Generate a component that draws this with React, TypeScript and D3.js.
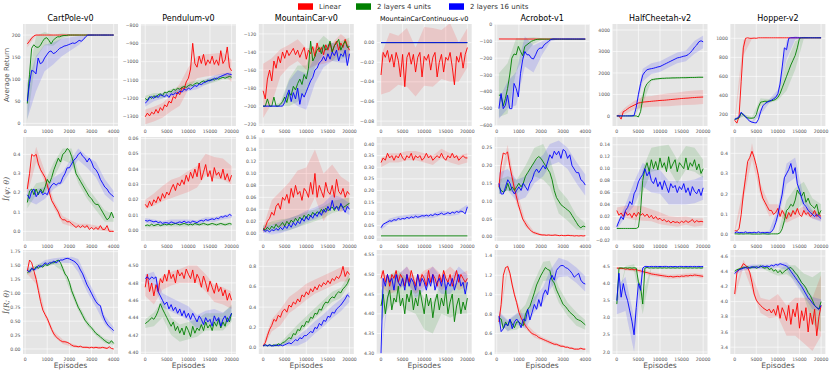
import React from "react";
import * as d3 from "d3";

// legend / series
const seriesNames = ["Linear", "2 layers 4 units", "2 layers 16 units"];
const seriesColors = ["#ff0000", "#008000", "#0000ff"];
const envNames = ["CartPole-v0", "Pendulum-v0", "MountainCar-v0", "MountainCarContinuous-v0", "Acrobot-v1", "HalfCheetah-v2", "Hopper-v2"];
const rowLabels = ["Average Return", "Î(ψ; θ)", "Î(R; θ)"];

// episode range of every curve (points are evenly spaced over it)
const EXT_4K = [100, 4000];
const EXT_20K = [0, 20000];
const XTICKS_4K = [0, 1000, 2000, 3000, 4000];
const XTICKS_20K = [0, 5000, 10000, 15000, 20000];

// ---------- row 1: average return  [linear, 4 units, 16 units] ----------
const cartPoleReturn = [
  [180,186,193,198,200,200,200,200,200,200,200,200,200,200,200,200,200,200,200,200,200,200,200,200,200,200,200,200,200,200,200,200,200,200,200,200,200,200,200,200,200],
  [45,110,170,178,173,172,176,185,192,194,188,180,188,193,196,196,198,199,199,200,200,200,200,200,200,200,200,200,200,200,200,200,200,200,200,200,200,200,200,200,200],
  [50,90,120,118,112,148,135,138,148,155,162,164,158,160,165,170,172,175,176,178,180,182,181,184,188,186,190,196,200,200,200,200,200,200,200,200,200,200,200,200,200],
];
const cartPoleReturnBand = [[8,1,0,0,0,0,0,0,0,0,0], [40,25,15,12,6,2,0,0,0,0,0], [40,40,30,25,20,15,10,2,0,0,0]];

const pendulumReturn = [
  [-1300,-1280,-1295,-1275,-1285,-1260,-1280,-1250,-1265,-1235,-1245,-1215,-1225,-1190,-1200,-1165,-1180,-1140,-1150,-1110,-1090,-1040,-900,-1010,-1030,-970,-1010,-960,-1020,-990,-1010,-970,-1015,-990,-1020,-940,-1010,-990,-920,-1030,-1050],
  [-1200,-1210,-1190,-1200,-1185,-1195,-1180,-1175,-1185,-1165,-1170,-1160,-1165,-1150,-1155,-1145,-1150,-1140,-1135,-1140,-1130,-1125,-1130,-1120,-1115,-1120,-1110,-1105,-1110,-1100,-1105,-1095,-1100,-1090,-1095,-1090,-1085,-1090,-1085,-1080,-1085],
  [-1225,-1215,-1195,-1190,-1200,-1185,-1195,-1180,-1185,-1190,-1180,-1195,-1175,-1180,-1170,-1175,-1160,-1165,-1150,-1155,-1145,-1150,-1140,-1130,-1135,-1120,-1125,-1115,-1110,-1105,-1100,-1100,-1090,-1095,-1085,-1080,-1075,-1070,-1065,-1068,-1070],
];
const pendulumReturnBand = [[40,40,40,45,60,60,60,60,60,60,60], [15,15,15,15,15,15,15,15,12,12,12], [20,15,15,15,15,15,15,15,15,12,12]];

const mountainCarReturn = [
  [-183,-192,-170,-160,-172,-150,-158,-145,-152,-140,-147,-138,-144,-140,-136,-143,-138,-146,-140,-135,-148,-138,-142,-134,-145,-130,-140,-135,-143,-132,-138,-130,-140,-133,-128,-138,-130,-135,-126,-133,-138],
  [-200,-200,-192,-200,-200,-190,-200,-200,-198,-195,-190,-196,-185,-188,-178,-182,-175,-170,-176,-165,-170,-158,-128,-150,-145,-138,-135,-142,-132,-138,-135,-128,-140,-133,-130,-126,-138,-132,-128,-135,-134],
  [-200,-200,-200,-200,-200,-200,-200,-200,-200,-200,-196,-188,-182,-195,-185,-192,-180,-198,-186,-190,-184,-178,-172,-168,-160,-158,-152,-150,-145,-150,-142,-148,-140,-144,-138,-150,-142,-145,-138,-155,-142],
];
const mountainCarReturnBand = [[30,25,15,12,12,12,10,10,10,10,10], [1,1,2,15,20,15,12,10,10,10,10], [1,1,1,10,20,20,15,12,10,10,10]];

const mountainCarContReturn = [
  [-0.033,-0.010,-0.015,-0.008,-0.020,-0.012,-0.025,-0.010,-0.018,-0.035,-0.012,-0.045,-0.015,-0.010,-0.022,-0.012,-0.030,-0.015,-0.010,-0.035,-0.014,-0.018,-0.012,-0.028,-0.015,-0.010,-0.035,-0.020,-0.012,-0.030,-0.015,-0.018,-0.010,-0.025,-0.043,-0.014,-0.020,-0.010,-0.026,-0.012,-0.005],
  [0, 0],
  [0, 0],
];
const mountainCarContReturnBand = [[0.02,0.03,0.025,0.03,0.025,0.03,0.03,0.025,0.03,0.02,0.02], [0, 0], [0, 0]];

const acrobotReturn = [
  [-86, -87],
  [-420,-420,-485,-440,-380,-300,-200,-175,-180,-130,-160,-185,-130,-120,-110,-100,-95,-90,-88,-87,-87,-87,-87,-87,-87,-87,-87,-87,-87,-87,-87,-87,-87,-87,-87,-87,-87,-87,-87,-87,-87],
  [-500,-410,-500,-480,-420,-500,-500,-350,-380,-430,-290,-210,-160,-180,-180,-200,-205,-180,-150,-140,-140,-120,-110,-100,-90,-86,-86,-86,-86,-86,-86,-86,-86,-86,-86,-86,-86,-86,-86,-86,-86],
];
const acrobotReturnBand = [[0, 0], [130,150,100,50,20,5,2,0,0,0,0], [60,80,100,90,80,40,10,0,0,0,0]];

const halfCheetahReturn = [
  [0,0,-150,200,250,330,400,450,500,550,600,620,640,650,660,670,680,690,700,710,720,725,730,740,750,760,770,780,790,800,810,815,825,830,840,850,855,865,870,875,880],
  [0,0,0,0,0,0,0,0,0,0,-50,200,800,1300,1500,1600,1680,1700,1720,1730,1740,1750,1750,1760,1760,1765,1770,1770,1775,1775,1780,1780,1780,1785,1790,1790,1790,1795,1800,1800,1800],
  [0,0,0,0,0,0,0,0,20,400,1000,1500,1900,2050,2150,2180,2200,2220,2250,2280,2300,2350,2400,2450,2500,2550,2600,2650,2700,2720,2750,2780,2800,2850,2950,3050,3200,3300,3450,3500,3450],
];
const halfCheetahReturnBand = [[20,150,200,250,250,280,300,300,320,330,330], [0,0,0,250,60,40,40,40,40,40,40], [0,0,50,300,250,250,250,250,250,300,300]];

const hopperReturn = [
  [140,110,180,550,900,1000,1005,1000,1000,1002,1000,1005,1005,1005,1005,1005,1005,1005,1005,1005,1005,1005,1005,1005,1005,1005,1005,1005,1005,1005,1005,1005,1005,1005,1005,1005,1005,1005,1005,1005,1005],
  [150,155,165,215,195,175,165,162,162,165,200,280,330,335,340,338,342,345,350,360,380,420,480,540,600,660,720,770,820,900,1000,1005,1005,1005,1005,1005,1005,1005,1005,1005,1005],
  [150,160,175,225,200,180,150,130,120,115,112,150,230,290,315,330,340,350,365,380,420,520,700,900,880,1000,1005,1005,1005,1005,1005,1005,1005,1005,1005,1005,1005,1005,1005,1005,1005],
];
const hopperReturnBand = [[30,80,5,0,0,0,0,0,0,0,0], [10,15,10,40,20,30,150,150,10,0,0], [10,15,10,30,20,40,100,20,0,0,0]];

// ---------- row 2: I(psi; theta) ----------
const cartPolePsi = [
  [0.22,0.30,0.40,0.39,0.40,0.35,0.32,0.30,0.28,0.24,0.20,0.16,0.14,0.12,0.10,0.07,0.06,0.06,0.05,0.05,0.04,0.03,0.02,0.03,0.02,0.03,0.02,0.03,0.01,0.02,0.01,0.02,0.01,0.03,0.01,0.01,0.03,0.00,0.00,0.00],
  [0.15,0.21,0.22,0.19,0.22,0.19,0.22,0.20,0.23,0.27,0.25,0.28,0.32,0.35,0.38,0.36,0.40,0.41,0.43,0.42,0.39,0.35,0.30,0.28,0.26,0.24,0.22,0.20,0.18,0.17,0.15,0.14,0.14,0.12,0.10,0.08,0.06,0.07,0.10,0.07],
  [0.19,0.17,0.21,0.22,0.18,0.20,0.21,0.19,0.20,0.19,0.22,0.24,0.25,0.24,0.25,0.25,0.28,0.30,0.33,0.33,0.35,0.37,0.38,0.40,0.41,0.39,0.38,0.36,0.38,0.36,0.33,0.32,0.30,0.27,0.25,0.23,0.22,0.20,0.19,0.18],
];
const cartPolePsiBand = [[0.03,0.04,0.03,0.02,0.02,0.015,0.01,0.01,0.01,0.01,0.005], [0.03,0.03,0.03,0.04,0.03,0.04,0.03,0.03,0.03,0.03,0.02], [0.03,0.04,0.03,0.03,0.03,0.03,0.03,0.03,0.04,0.04,0.03]];

const pendulumPsi = [
  [0.017,0.015,0.019,0.016,0.020,0.018,0.022,0.019,0.024,0.021,0.025,0.023,0.027,0.030,0.026,0.031,0.029,0.033,0.030,0.036,0.032,0.038,0.034,0.040,0.035,0.044,0.033,0.038,0.043,0.035,0.039,0.032,0.041,0.036,0.038,0.034,0.040,0.033,0.037,0.032,0.036],
  [0.003,0.0035,0.003,0.004,0.003,0.0035,0.004,0.003,0.0035,0.004,0.0035,0.004,0.0035,0.004,0.0045,0.004,0.0035,0.004,0.0045,0.004,0.0035,0.004,0.0035,0.0045,0.004,0.0035,0.004,0.0045,0.004,0.0035,0.004,0.0045,0.004,0.0035,0.004,0.0045,0.004,0.0035,0.004,0.0045,0.004],
  [0.0065,0.006,0.0065,0.006,0.0055,0.006,0.005,0.0055,0.0045,0.005,0.005,0.0045,0.0055,0.005,0.0045,0.005,0.0055,0.005,0.006,0.005,0.0055,0.005,0.006,0.0055,0.005,0.006,0.0065,0.006,0.007,0.0065,0.007,0.0075,0.007,0.008,0.0075,0.009,0.0085,0.0095,0.009,0.0105,0.0095],
];
const pendulumPsiBand = [[0.003,0.004,0.005,0.006,0.006,0.007,0.007,0.007,0.007,0.007,0.006], [0.001,0.001,0.001,0.001,0.001,0.001,0.001,0.001,0.001,0.001,0.001], [0.0015,0.0015,0.0015,0.0015,0.0015,0.0015,0.0015,0.0015,0.0015,0.0015,0.0015]];

const mountainCarPsi = [
  [0.005,0.01,0.02,0.025,0.035,0.03,0.045,0.05,0.04,0.06,0.055,0.065,0.05,0.075,0.06,0.08,0.065,0.07,0.055,0.075,0.07,0.06,0.085,0.065,0.1,0.06,0.08,0.07,0.06,0.085,0.07,0.065,0.08,0.06,0.09,0.07,0.065,0.075,0.06,0.07,0.065],
  [0.008,0.005,0.01,0.006,0.012,0.008,0.015,0.01,0.013,0.018,0.012,0.02,0.015,0.022,0.018,0.025,0.02,0.027,0.022,0.03,0.025,0.032,0.028,0.035,0.03,0.036,0.033,0.04,0.035,0.042,0.038,0.04,0.044,0.038,0.045,0.042,0.047,0.043,0.045,0.048,0.05],
  [0.006,0.003,0.005,0.002,0.006,0.004,0.008,0.005,0.01,0.006,0.012,0.008,0.015,0.01,0.018,0.013,0.02,0.016,0.025,0.02,0.028,0.022,0.03,0.025,0.033,0.028,0.036,0.03,0.04,0.035,0.045,0.038,0.055,0.04,0.045,0.038,0.05,0.042,0.035,0.045,0.04],
];
const mountainCarPsiBand = [[0.005,0.02,0.03,0.035,0.04,0.04,0.04,0.04,0.035,0.03,0.02], [0.005,0.008,0.01,0.01,0.01,0.01,0.01,0.01,0.01,0.01,0.01], [0.005,0.008,0.01,0.01,0.01,0.01,0.01,0.01,0.01,0.01,0.01]];

const mountainCarContPsi = [
  [0.32,0.34,0.33,0.36,0.34,0.35,0.33,0.35,0.34,0.36,0.34,0.33,0.35,0.34,0.36,0.33,0.35,0.34,0.35,0.33,0.34,0.36,0.34,0.35,0.33,0.34,0.35,0.34,0.36,0.34,0.33,0.35,0.34,0.36,0.34,0.35,0.33,0.34,0.35,0.34,0.34],
  [0.005, 0.005],
  [0.04,0.055,0.06,0.065,0.07,0.068,0.075,0.072,0.08,0.076,0.08,0.078,0.085,0.08,0.087,0.083,0.09,0.085,0.088,0.092,0.09,0.094,0.09,0.096,0.092,0.1,0.095,0.098,0.103,0.097,0.1,0.105,0.1,0.107,0.103,0.11,0.106,0.112,0.108,0.1,0.13],
];
const mountainCarContPsiBand = [[0.02,0.02,0.02,0.02,0.02,0.02,0.02,0.02,0.02,0.02,0.02], [0, 0], [0.01,0.01,0.01,0.01,0.01,0.01,0.01,0.01,0.01,0.01,0.01]];

const acrobotPsi = [
  [0.14,0.2,0.235,0.232,0.238,0.2,0.17,0.14,0.115,0.09,0.07,0.05,0.04,0.03,0.022,0.016,0.012,0.01,0.008,0.006,0.005,0.005,0.004,0.005,0.004,0.004,0.005,0.004,0.003,0.004,0.003,0.003,0.004,0.003,0.003,0.002,0.003,0.002,0.003,0.002,0.003],
  [0.14,0.13,0.125,0.13,0.15,0.13,0.14,0.13,0.14,0.15,0.14,0.15,0.17,0.18,0.19,0.2,0.21,0.22,0.225,0.22,0.21,0.2,0.19,0.18,0.16,0.13,0.11,0.1,0.09,0.085,0.08,0.075,0.07,0.06,0.05,0.04,0.03,0.025,0.03,0.028],
  [0.15,0.12,0.12,0.14,0.16,0.15,0.13,0.12,0.13,0.14,0.13,0.15,0.14,0.13,0.15,0.16,0.18,0.19,0.18,0.19,0.2,0.19,0.21,0.23,0.22,0.24,0.23,0.24,0.22,0.245,0.24,0.22,0.23,0.2,0.19,0.18,0.18,0.16,0.155,0.145],
];
const acrobotPsiBand = [[0.01,0.02,0.02,0.01,0.005,0.003,0.002,0.002,0.002,0.002,0.002], [0.02,0.02,0.02,0.03,0.04,0.05,0.04,0.035,0.03,0.02,0.01], [0.03,0.03,0.03,0.03,0.03,0.03,0.03,0.03,0.03,0.03,0.03]];

const halfCheetahPsi = [
  [0.03,0.022,0.026,0.02,0.028,0.022,0.025,0.018,0.026,0.02,0.027,0.022,0.025,0.02,0.024,0.018,0.022,0.016,0.02,0.015,0.017,0.013,0.015,0.011,0.013,0.009,0.012,0.01,0.011,0.009,0.012,0.01,0.013,0.01,0.012,0.015,0.01,0.013,0.011,0.012,0.011],
  [0,0,0,0,0,0,0,0,0,0,0.002,0.03,0.08,0.1,0.11,0.095,0.115,0.1,0.112,0.098,0.118,0.102,0.11,0.095,0.12,0.1,0.108,0.115,0.095,0.11,0.105,0.1,0.118,0.098,0.11,0.104,0.115,0.098,0.108,0.092,0.1],
  [0.003,0.012,0.02,0.015,0.03,0.035,0.045,0.04,0.058,0.065,0.078,0.085,0.09,0.1,0.088,0.095,0.08,0.075,0.085,0.07,0.078,0.065,0.08,0.07,0.06,0.075,0.068,0.072,0.06,0.07,0.065,0.075,0.06,0.068,0.055,0.07,0.062,0.058,0.066,0.055,0.068],
];
const halfCheetahPsiBand = [[0.005,0.01,0.012,0.012,0.01,0.01,0.008,0.008,0.007,0.007,0.006], [0,0,0,0.02,0.02,0.02,0.02,0.02,0.02,0.02,0.015], [0.005,0.01,0.02,0.02,0.02,0.02,0.02,0.02,0.02,0.02,0.02]];

const hopperPsi = [
  [0.02,0.02,0.03,0.1,0.2,0.28,0.36,0.38,0.41,0.38,0.34,0.29,0.22,0.18,0.16,0.14,0.12,0.12,0.1,0.11,0.13,0.09,0.12,0.1,0.08,0.11,0.09,0.12,0.1,0.13,0.1,0.09,0.12,0.1,0.11,0.09,0.1,0.12,0.09,0.1,0.09],
  [0.005,0.005,0.004,0.005,0.004,0.005,0.005,0.005,0.004,0.004,0.004,0.004,0.004,0.005,0.005,0.004,0.004,0.005,0.005,0.005,0.005,0.01,0.03,0.07,0.12,0.13,0.15,0.14,0.17,0.22,0.2,0.19,0.21,0.16,0.18,0.15,0.14,0.13,0.15,0.1,0.12],
  [0.01,0.015,0.01,0.012,0.01,0.015,0.01,0.012,0.01,0.013,0.01,0.015,0.01,0.012,0.01,0.012,0.01,0.015,0.03,0.06,0.1,0.15,0.2,0.28,0.3,0.32,0.35,0.3,0.33,0.25,0.22,0.18,0.15,0.14,0.12,0.11,0.1,0.09,0.1,0.09,0.08],
];
const hopperPsiBand = [[0.01,0.03,0.04,0.03,0.03,0.02,0.02,0.02,0.02,0.02,0.02], [0,0,0,0,0,0,0.05,0.06,0.05,0.04,0.03], [0.005,0.005,0.005,0.005,0.01,0.03,0.05,0.05,0.03,0.02,0.015]];

// ---------- row 3: I(R; theta) ----------
const cartPoleR = [
  [1.4,1.6,1.55,1.4,1.25,1.05,0.85,0.7,0.62,0.55,0.45,0.35,0.27,0.22,0.18,0.15,0.13,0.13,0.12,0.1,0.07,0.05,0.05,0.04,0.05,0.03,0.03,0.03,0.02,0.03,0.02,0.03,0.02,0.02,0.03,0.02,0.01,0.04,0.01,0.0],
  [1.37,1.4,1.45,1.42,1.48,1.45,1.5,1.47,1.52,1.5,1.52,1.55,1.55,1.58,1.6,1.55,1.45,1.35,1.3,1.2,1.05,0.95,0.85,0.75,0.68,0.6,0.52,0.47,0.42,0.38,0.33,0.28,0.25,0.22,0.18,0.15,0.12,0.1,0.15,0.1],
  [1.42,1.38,1.45,1.42,1.45,1.5,1.48,1.5,1.55,1.52,1.55,1.55,1.58,1.55,1.58,1.6,1.6,1.62,1.63,1.62,1.6,1.58,1.55,1.5,1.42,1.35,1.25,1.15,1.08,1.0,0.92,0.85,0.8,0.78,0.62,0.52,0.45,0.4,0.37,0.33],
];
const cartPoleRBand = [[0.05,0.08,0.05,0.05,0.04,0.03,0.02,0.02,0.02,0.02,0.01], [0.04,0.04,0.04,0.04,0.05,0.08,0.06,0.05,0.04,0.04,0.03], [0.04,0.04,0.05,0.05,0.05,0.06,0.12,0.12,0.1,0.08,0.06]];

const pendulumR = [
  [4.475,4.49,4.47,4.48,4.465,4.478,4.47,4.485,4.48,4.49,4.482,4.495,4.485,4.49,4.48,4.495,4.488,4.492,4.485,4.496,4.49,4.485,4.495,4.48,4.49,4.485,4.475,4.488,4.48,4.47,4.482,4.475,4.468,4.48,4.47,4.475,4.465,4.472,4.46,4.468,4.46],
  [4.433,4.435,4.437,4.44,4.438,4.442,4.448,4.456,4.45,4.445,4.44,4.435,4.43,4.435,4.425,4.43,4.422,4.428,4.42,4.43,4.425,4.418,4.43,4.422,4.428,4.425,4.432,4.425,4.435,4.428,4.432,4.425,4.435,4.43,4.438,4.428,4.435,4.43,4.44,4.435,4.445],
  [4.485,4.487,4.484,4.487,4.485,4.487,4.47,4.465,4.46,4.455,4.458,4.45,4.455,4.448,4.452,4.445,4.45,4.442,4.448,4.44,4.445,4.438,4.445,4.44,4.435,4.442,4.438,4.432,4.44,4.435,4.438,4.43,4.442,4.436,4.44,4.43,4.438,4.442,4.435,4.44,4.445],
];
const pendulumRBand = [[0.01,0.01,0.008,0.008,0.008,0.01,0.01,0.01,0.01,0.01,0.01], [0.005,0.008,0.01,0.01,0.01,0.01,0.01,0.01,0.01,0.01,0.01], [0.005,0.008,0.008,0.008,0.008,0.008,0.008,0.008,0.008,0.008,0.008]];

const mountainCarR = [
  [0.02,0.05,0.12,0.18,0.22,0.28,0.26,0.32,0.3,0.36,0.38,0.35,0.42,0.4,0.45,0.43,0.48,0.45,0.52,0.5,0.55,0.52,0.58,0.55,0.6,0.57,0.62,0.6,0.64,0.62,0.66,0.63,0.68,0.66,0.7,0.68,0.72,0.8,0.7,0.75,0.72],
  [0.02,0.03,0.02,0.03,0.02,0.03,0.02,0.04,0.03,0.05,0.06,0.08,0.1,0.09,0.14,0.13,0.18,0.17,0.22,0.21,0.26,0.25,0.3,0.29,0.34,0.33,0.38,0.37,0.42,0.45,0.44,0.48,0.5,0.49,0.53,0.55,0.54,0.58,0.6,0.63,0.68],
  [0.02,0.03,0.02,0.03,0.02,0.02,0.03,0.02,0.03,0.02,0.03,0.04,0.05,0.04,0.06,0.08,0.07,0.1,0.09,0.12,0.12,0.14,0.16,0.15,0.2,0.19,0.24,0.22,0.27,0.26,0.31,0.3,0.35,0.34,0.38,0.4,0.42,0.45,0.48,0.52,0.5],
];
const mountainCarRBand = [[0.02,0.06,0.08,0.08,0.08,0.08,0.07,0.07,0.07,0.07,0.07], [0.01,0.01,0.02,0.04,0.05,0.05,0.05,0.05,0.05,0.05,0.05], [0.01,0.01,0.01,0.03,0.05,0.06,0.06,0.06,0.06,0.06,0.05]];

const mountainCarContR = [
  [4.49,4.51,4.48,4.5,4.47,4.5,4.49,4.51,4.48,4.5,4.49,4.47,4.5,4.48,4.51,4.49,4.47,4.5,4.48,4.5,4.49,4.47,4.51,4.48,4.5,4.49,4.47,4.5,4.48,4.51,4.49,4.48,4.5,4.47,4.49,4.51,4.48,4.5,4.49,4.48,4.49],
  [4.42,4.45,4.4,4.44,4.46,4.41,4.44,4.43,4.47,4.42,4.44,4.4,4.45,4.43,4.46,4.41,4.44,4.42,4.46,4.43,4.4,4.45,4.42,4.44,4.39,4.43,4.45,4.41,4.44,4.42,4.46,4.4,4.43,4.45,4.38,4.42,4.44,4.4,4.43,4.41,4.44],
  [4.3,4.49,4.47,4.5,4.48,4.49,4.46,4.5,4.48,4.47,4.49,4.46,4.5,4.47,4.49,4.48,4.46,4.5,4.47,4.49,4.48,4.46,4.49,4.47,4.5,4.46,4.48,4.49,4.47,4.5,4.46,4.48,4.47,4.49,4.46,4.48,4.5,4.47,4.48,4.45,4.48],
];
const mountainCarContRBand = [[0.02,0.02,0.02,0.02,0.02,0.02,0.02,0.02,0.02,0.02,0.02], [0.04,0.04,0.04,0.04,0.04,0.04,0.04,0.04,0.04,0.04,0.04], [0.0,0.02,0.02,0.02,0.02,0.02,0.02,0.02,0.02,0.02,0.02]];

const acrobotR = [
  [0.72,0.9,1.2,1.28,1.29,1.22,1.1,1.0,0.92,0.82,0.76,0.72,0.68,0.65,0.62,0.6,0.59,0.58,0.56,0.55,0.54,0.53,0.52,0.51,0.5,0.49,0.49,0.48,0.47,0.47,0.46,0.46,0.45,0.45,0.44,0.44,0.44,0.45,0.44,0.44],
  [0.76,0.75,0.65,0.72,0.68,0.74,0.7,0.66,0.72,0.72,0.7,0.68,0.8,0.85,0.88,0.95,1.02,1.1,1.15,1.2,1.24,1.28,1.26,1.25,1.15,1.12,1.05,1.0,0.95,0.9,0.88,0.85,0.82,0.8,0.78,0.75,0.74,0.73,0.71,0.69],
  [0.78,0.62,0.65,0.7,0.68,0.75,0.65,0.72,0.75,0.72,0.66,0.75,0.73,0.85,0.74,0.82,0.9,0.85,0.95,0.88,1.0,1.05,1.0,1.15,1.2,1.15,1.25,1.28,1.3,1.3,1.28,1.27,1.25,1.22,1.18,1.2,1.22,1.15,1.12,1.11],
];
const acrobotRBand = [[0.03,0.03,0.03,0.03,0.03,0.02,0.02,0.015,0.01,0.01,0.01], [0.05,0.05,0.08,0.1,0.12,0.1,0.1,0.08,0.07,0.07,0.05], [0.05,0.06,0.06,0.08,0.08,0.08,0.1,0.1,0.08,0.08,0.08]];

const halfCheetahR = [
  [4.45,4.45,4.44,4.44,4.42,4.43,4.41,4.42,4.4,4.41,4.38,4.37,4.35,4.33,4.32,4.3,4.28,4.27,4.26,4.25,4.24,4.23,4.22,4.21,4.2,4.21,4.19,4.2,4.21,4.2,4.22,4.21,4.23,4.22,4.24,4.23,4.25,4.24,4.23,4.22,4.21],
  [3.4,4.45,4.46,4.45,4.46,4.45,4.46,4.45,4.46,4.45,4.05,3.9,3.4,4.45,4.47,4.45,4.46,4.45,4.46,4.45,4.46,4.45,4.46,4.45,4.46,4.45,4.46,4.45,4.46,4.45,4.46,4.45,4.46,4.45,4.46,4.45,4.46,4.45,4.46,4.45,4.46],
  [3.5,4.3,3.6,4.0,3.7,3.5,3.2,2.9,2.5,3.3,4.0,3.8,4.45,4.5,4.5,4.49,4.5,4.49,4.5,4.49,4.5,4.49,4.5,4.5,4.49,4.5,4.49,4.5,4.49,4.5,4.5,4.49,4.5,4.49,4.5,4.49,4.5,4.49,4.5,4.49,4.5],
];
const halfCheetahRBand = [[0.03,0.04,0.05,0.06,0.06,0.06,0.06,0.06,0.06,0.06,0.06], [0.05,0.05,0.1,0.3,0.03,0.02,0.02,0.02,0.02,0.02,0.02], [0.4,0.5,0.5,0.05,0.02,0.02,0.02,0.02,0.02,0.02,0.02]];

const hopperR = [
  [4.1,4.38,4.42,4.45,4.5,4.48,4.45,4.38,4.25,4.1,4.02,3.98,3.95,3.92,3.9,3.88,3.9,3.85,3.9,3.82,3.95,3.78,3.92,3.85,3.75,3.95,3.7,3.9,3.8,3.98,3.65,3.88,3.75,3.92,3.6,3.85,3.7,3.9,3.55,3.8,3.95],
  [4.4,4.42,4.43,4.44,4.45,4.45,4.46,4.44,4.45,4.46,4.44,4.45,4.47,4.45,4.44,4.46,4.42,4.44,4.4,4.42,4.38,4.41,4.37,4.4,4.42,4.44,4.45,4.42,4.38,4.35,4.3,4.25,4.22,4.18,4.12,4.08,4.02,3.95,3.92,3.9,4.0],
  [4.37,4.4,4.42,4.43,4.44,4.45,4.44,4.45,4.46,4.45,4.46,4.45,4.46,4.47,4.46,4.47,4.46,4.48,4.47,4.49,4.48,4.5,4.49,4.48,4.47,4.44,4.4,4.36,4.32,4.28,4.24,4.2,4.15,4.1,4.05,4.02,3.98,3.95,3.92,3.9,3.95],
];
const hopperRBand = [[0.05,0.05,0.1,0.1,0.12,0.15,0.2,0.25,0.3,0.35,0.4], [0.02,0.02,0.02,0.02,0.03,0.04,0.06,0.1,0.15,0.3,0.4], [0.02,0.03,0.03,0.03,0.03,0.03,0.05,0.08,0.08,0.08,0.08]];

// panel table built from the arrays above
const short = (e: number[]) => (e === EXT_4K ? { ext: EXT_4K, xDomain: [-95, 4195], xTicks: XTICKS_4K } : { ext: EXT_20K, xDomain: [-1000, 21000], xTicks: XTICKS_20K });

const panels = [
  [
    { ...short(EXT_4K), means: cartPoleReturn, bands: cartPoleReturnBand, yDomain: [-6, 225], yTicks: [0, 50, 100, 150, 200], fmt: "d" },
    { ...short(EXT_20K), means: pendulumReturn, bands: pendulumReturnBand, yDomain: [-1350, -795], yTicks: [-1300, -1200, -1100, -1000, -900, -800], fmt: "d" },
    { ...short(EXT_20K), means: mountainCarReturn, bands: mountainCarReturnBand, yDomain: [-222, -109], yTicks: [-220, -200, -180, -160, -140, -120], fmt: "d" },
    { ...short(EXT_20K), means: mountainCarContReturn, bands: mountainCarContReturnBand, yDomain: [-0.085, 0.019], yTicks: [-0.08, -0.06, -0.04, -0.02, 0], fmt: ".2f" },
    { ...short(EXT_4K), means: acrobotReturn, bands: acrobotReturnBand, yDomain: [-603, 3], yTicks: [-600, -500, -400, -300, -200, -100, 0], fmt: "d" },
    { ...short(EXT_20K), means: halfCheetahReturn, bands: halfCheetahReturnBand, yDomain: [-470, 4280], yTicks: [0, 1000, 2000, 3000, 4000], fmt: "d" },
    { ...short(EXT_20K), means: hopperReturn, bands: hopperReturnBand, yDomain: [80, 1150], yTicks: [200, 400, 600, 800, 1000], fmt: "d" },
  ],
  [
    { ...short(EXT_4K), means: cartPolePsi, bands: cartPolePsiBand, yDomain: [-0.05, 0.49], yTicks: [0, 0.1, 0.2, 0.3, 0.4], fmt: ".1f" },
    { ...short(EXT_20K), means: pendulumPsi, bands: pendulumPsiBand, yDomain: [-0.007, 0.061], yTicks: [0, 0.01, 0.02, 0.03, 0.04, 0.05, 0.06], fmt: ".2f" },
    { ...short(EXT_20K), means: mountainCarPsi, bands: mountainCarPsiBand, yDomain: [-0.013, 0.161], yTicks: [0, 0.02, 0.04, 0.06, 0.08, 0.1, 0.12, 0.14, 0.16], fmt: ".2f" },
    { ...short(EXT_20K), means: mountainCarContPsi, bands: mountainCarContPsiBand, yDomain: [-0.017, 0.43], yTicks: [0, 0.05, 0.1, 0.15, 0.2, 0.25, 0.3, 0.35, 0.4], fmt: ".2f" },
    { ...short(EXT_4K), means: acrobotPsi, bands: acrobotPsiBand, yDomain: [-0.012, 0.28], yTicks: [0, 0.05, 0.1, 0.15, 0.2, 0.25], fmt: ".2f" },
    { ...short(EXT_20K), means: halfCheetahPsi, bands: halfCheetahPsiBand, yDomain: [-0.021, 0.153], yTicks: [-0.02, 0, 0.02, 0.04, 0.06, 0.08, 0.1, 0.12, 0.14], fmt: ".2f" },
    { ...short(EXT_20K), means: hopperPsi, bands: hopperPsiBand, yDomain: [-0.03, 0.48], yTicks: [0, 0.1, 0.2, 0.3, 0.4], fmt: ".1f" },
  ],
  [
    { ...short(EXT_4K), means: cartPoleR, bands: cartPoleRBand, yDomain: [-0.09, 1.78], yTicks: [0, 0.25, 0.5, 0.75, 1, 1.25, 1.5, 1.75], fmt: ".2f" },
    { ...short(EXT_20K), means: pendulumR, bands: pendulumRBand, yDomain: [4.398, 4.518], yTicks: [4.4, 4.42, 4.44, 4.46, 4.48, 4.5], fmt: ".2f" },
    { ...short(EXT_20K), means: mountainCarR, bands: mountainCarRBand, yDomain: [-0.06, 0.96], yTicks: [0, 0.2, 0.4, 0.6, 0.8], fmt: ".1f" },
    { ...short(EXT_20K), means: mountainCarContR, bands: mountainCarContRBand, yDomain: [4.298, 4.562], yTicks: [4.3, 4.35, 4.4, 4.45, 4.5, 4.55], fmt: ".2f" },
    { ...short(EXT_4K), means: acrobotR, bands: acrobotRBand, yDomain: [0.39, 1.46], yTicks: [0.4, 0.6, 0.8, 1.0, 1.2, 1.4], fmt: ".1f" },
    { ...short(EXT_20K), means: halfCheetahR, bands: halfCheetahRBand, yDomain: [1.94, 4.98], yTicks: [2, 2.5, 3, 3.5, 4, 4.5], fmt: ".1f" },
    { ...short(EXT_20K), means: hopperR, bands: hopperRBand, yDomain: [3.31, 4.68], yTicks: [3.4, 3.6, 3.8, 4.0, 4.2, 4.4, 4.6], fmt: ".1f" },
  ],
];

const LEFT = 23;
const COL_STEP = 117.9;
const PW = 95;
const ROW_TOP = [24, 137, 250];
const ROW_H = [102, 104, 104];
const TICK_FONT = 4.6;

function Panel({ p, r, c }: any) {
  const left = LEFT + c * COL_STEP;
  const top = ROW_TOP[r];
  const h = ROW_H[r];
  const x = d3.scaleLinear().domain(p.xDomain).range([left, left + PW]);
  const y = d3.scaleLinear().domain(p.yDomain).range([top + h, top]);
  const fmt = d3.format(p.fmt);
  const [e0, e1] = p.ext;
  const clipId = `clip-${r}-${c}`;

  const line = d3
    .line<number>()
    .x((_, i, arr) => x(e0 + ((e1 - e0) * i) / (arr.length - 1)))
    .y((d) => y(d));

  // shaded spread: half-widths given at evenly spaced knots of the curve
  const band = (m: number[], w: number[]) => {
    const n = m.length;
    const knots = w.map((hw, j) => {
      const idx = Math.round((j * (n - 1)) / (w.length - 1));
      return { ep: e0 + ((e1 - e0) * idx) / (n - 1), lo: m[idx] - hw, hi: m[idx] + hw };
    });
    return d3
      .area<any>()
      .x((d) => x(d.ep))
      .y0((d) => y(d.lo))
      .y1((d) => y(d.hi))(knots);
  };

  return (
    <g>
      <defs>
        <clipPath id={clipId}>
          <rect x={left} y={top} width={PW} height={h} />
        </clipPath>
      </defs>
      <rect x={left} y={top} width={PW} height={h} fill="#e5e5e5" />
      {p.xTicks.map((t: number) => (
        <line key={"gx" + t} x1={x(t)} x2={x(t)} y1={top} y2={top + h} stroke="#fff" strokeWidth={0.6} />
      ))}
      {p.yTicks.map((t: number) => (
        <line key={"gy" + t} x1={left} x2={left + PW} y1={y(t)} y2={y(t)} stroke="#fff" strokeWidth={0.6} />
      ))}
      <g clipPath={`url(#${clipId})`}>
        {p.means.map((m: number[], k: number) =>
          p.bands[k].some((v: number) => v > 0) ? (
            <path key={"b" + k} d={band(m, p.bands[k]) || ""} fill={seriesColors[k]} fillOpacity={0.13} />
          ) : null
        )}
        {p.means.map((m: number[], k: number) => (
          <path key={"l" + k} d={line(m) || ""} fill="none" stroke={seriesColors[k]} strokeWidth={0.9} />
        ))}
      </g>
      {p.xTicks.map((t: number) => (
        <text key={"tx" + t} x={x(t)} y={top + h + 6.5} fontSize={TICK_FONT} fill="#555" textAnchor="middle">
          {d3.format("d")(t)}
        </text>
      ))}
      {p.yTicks.map((t: number) => (
        <text key={"ty" + t} x={left - 2.5} y={y(t) + 1.6} fontSize={TICK_FONT} fill="#555" textAnchor="end">
          {fmt(t)}
        </text>
      ))}
      {r === 0 && (
        <text x={left + PW / 2} y={top - 3} fontSize={c === 3 ? 6.5 : 8} textAnchor="middle" fill="#000">
          {envNames[c]}
        </text>
      )}
      {r === 2 && (
        <text x={left + PW / 2} y={top + h + 14} fontSize={7.5} textAnchor="middle" fill="#555">
          Episodes
        </text>
      )}
    </g>
  );
}

const legendX = [298, 356, 449];

export default function App() {
  return (
    <svg width={830} height={370} style={{ position: "absolute", left: 0, top: 0, background: "#fff" }} fontFamily="DejaVu Sans, sans-serif">
      {seriesNames.map((s, k) => (
        <g key={s}>
          <rect x={legendX[k]} y={3.3} width={15} height={6.5} fill={seriesColors[k]} />
          <text x={legendX[k] + 21} y={9.3} fontSize={7} fill="#333">
            {s}
          </text>
        </g>
      ))}
      {panels.map((row, r) => row.map((p, c) => <Panel key={r + "-" + c} p={p} r={r} c={c} />))}
      {rowLabels.map((lab, r) => {
        const cy = ROW_TOP[r] + ROW_H[r] / 2;
        return (
          <text
            key={lab}
            transform={`translate(9,${cy}) rotate(-90)`}
            textAnchor="middle"
            fontSize={r === 0 ? 7 : 7.5}
            fill="#555"
            fontFamily={r === 0 ? "DejaVu Sans, sans-serif" : "DejaVu Serif, serif"}
            fontStyle={r === 0 ? "normal" : "italic"}
          >
            {lab}
          </text>
        );
      })}
    </svg>
  );
}
